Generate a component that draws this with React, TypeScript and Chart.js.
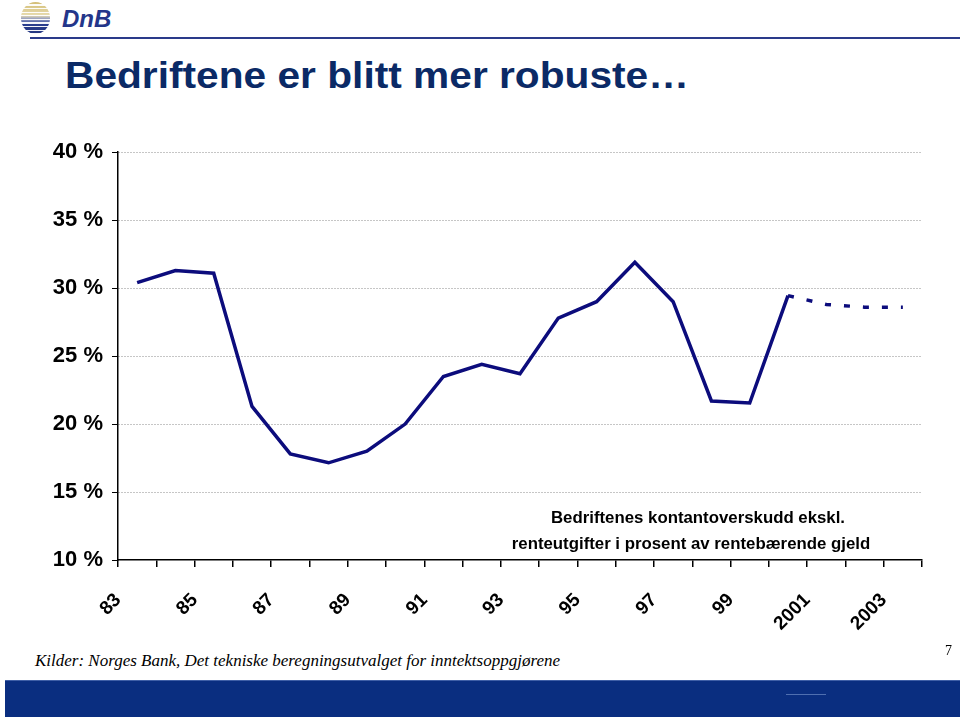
import React, { useEffect, useRef } from "react";
import { Chart, registerables } from "chart.js";

Chart.register(...registerables);

// ---- Data ----
const years: string[] = [
  "83", "84", "85", "86", "87", "88", "89", "90", "91", "92", "93",
  "94", "95", "96", "97", "98", "99", "2000", "2001", "2002", "2003",
];
const shownYearLabels: string[] = [
  "83", "85", "87", "89", "91", "93", "95", "97", "99", "2001", "2003",
];
// Bedriftenes kontantoverskudd ekskl. renteutgifter i prosent av rentebærende gjeld
const cashSurplusPct: number[] = [
  30.4, 31.3, 31.1, 21.3, 17.8, 17.15, 18.0, 20.0, 23.5, 24.4, 23.7,
  27.8, 29.0, 31.9, 29.0, 21.7, 21.55, 29.45, 28.8, 28.6, 28.6,
];
const forecastFromYear = "2000";
const yMin = 10;
const yMax = 40;
const yStep = 5;

const SANS = '"Liberation Sans", Arial, Helvetica, sans-serif';
const SERIF = '"Liberation Serif", "Times New Roman", serif';
const LINE_COLOR = "#0c0c7c";

function LineChart() {
  const ref = useRef<HTMLCanvasElement | null>(null);
  useEffect(() => {
    if (!ref.current) return;
    const forecastIdx = years.indexOf(forecastFromYear);
    const chart = new Chart(ref.current, {
      type: "line",
      data: {
        labels: years,
        datasets: [
          {
            label: "Bedriftenes kontantoverskudd",
            data: cashSurplusPct,
            borderColor: LINE_COLOR,
            backgroundColor: LINE_COLOR,
            borderWidth: 3.5,
            pointRadius: 0,
            pointHoverRadius: 0,
            tension: 0,
            borderJoinStyle: "miter",
            borderCapStyle: "butt",
            segment: {
              borderDash: (ctx: any) =>
                ctx.p0DataIndex >= forecastIdx ? [6, 13] : undefined,
            },
          },
        ],
      },
      options: {
        responsive: false,
        animation: false,
        events: [],
        layout: { padding: { top: 20, right: 38, left: 0, bottom: 0 } },
        plugins: {
          legend: { display: false },
          tooltip: { enabled: false },
          title: { display: false },
        },
        scales: {
          x: {
            type: "category",
            offset: true,
            grid: {
              offset: true,
              drawOnChartArea: false,
              drawTicks: true,
              tickLength: 7,
              tickColor: "#000",
              lineWidth: 1.5,
            },
            border: { display: true, color: "#000", width: 1.5 },
            ticks: {
              autoSkip: false,
              minRotation: 45,
              maxRotation: 45,
              labelOffset: -19,
              padding: 22,
              color: "#000",
              font: { family: SANS, size: 19, weight: "bold" },
              callback: (_v: any, i: number) =>
                shownYearLabels.includes(years[i]) ? years[i] : "",
            },
            afterFit: (s: any) => {
              s.height = 90;
            },
          },
          y: {
            min: yMin,
            max: yMax,
            ticks: {
              stepSize: yStep,
              padding: 9,
              color: "#000",
              font: { family: SANS, size: 22, weight: "bold" },
              callback: (v: any) => `${v} %`,
            },
            grid: {
              color: (c: any) =>
                c.tick && c.tick.value === yMin ? "rgba(0,0,0,0)" : "#8c8c8c",
              lineWidth: 1,
              drawTicks: true,
              tickLength: 6,
              tickColor: "#000",
            },
            border: { display: true, color: "#000", width: 1.5, dash: [1, 2] },
            afterFit: (s: any) => {
              s.width = 118;
            },
          },
        },
      },
    } as any);
    return () => chart.destroy();
  }, []);
  return <canvas ref={ref} width={960} height={520} style={{ display: "block" }} />;
}

function Logo() {
  return (
    <>
      <div
        style={{
          position: "absolute",
          left: 21,
          top: 2,
          width: 29,
          height: 32,
          borderRadius: "50%",
          background:
            "repeating-linear-gradient(to bottom, rgba(255,255,255,0) 0px, rgba(255,255,255,0) 2.4px, rgba(255,255,255,0.95) 2.4px, rgba(255,255,255,0.95) 3.6px), linear-gradient(to bottom, #d3bd74 0%, #e7dcaf 42%, #8d98c4 54%, #2a3d8e 70%, #22357f 100%)",
        }}
      />
      <div
        style={{
          position: "absolute",
          left: 62,
          top: 5,
          fontFamily: SANS,
          fontWeight: "bold",
          fontStyle: "italic",
          fontSize: 24,
          lineHeight: "28px",
          color: "#24368a",
          whiteSpace: "nowrap",
        }}
      >
        DnB
      </div>
      <div
        style={{
          position: "absolute",
          left: 30,
          top: 37,
          width: 930,
          height: 2,
          background: "#2a3a8a",
        }}
      />
    </>
  );
}

const noteStyle: React.CSSProperties = {
  position: "absolute",
  textAlign: "center",
  fontFamily: SANS,
  fontWeight: "bold",
  fontSize: 16,
  lineHeight: "18px",
  color: "#000",
  whiteSpace: "nowrap",
  transform: "scaleX(1.05)",
  transformOrigin: "center top",
};

export default function App() {
  return (
    <div
      style={{
        position: "absolute",
        left: 0,
        top: 0,
        width: 960,
        height: 723,
        background: "#fff",
        overflow: "hidden",
      }}
    >
      <Logo />
      <div
        style={{
          position: "absolute",
          left: 65,
          top: 58,
          fontFamily: SANS,
          fontWeight: "bold",
          fontSize: 36,
          lineHeight: "36px",
          color: "#0b2a66",
          whiteSpace: "nowrap",
          transform: "scaleX(1.13)",
          transformOrigin: "left top",
        }}
      >
        Bedriftene er blitt mer robuste…
      </div>
      <div style={{ position: "absolute", left: 0, top: 130, width: 960, height: 520 }}>
        <LineChart />
      </div>
      <div style={{ ...noteStyle, left: 498, top: 509, width: 400 }}>
        Bedriftenes kontantoverskudd ekskl.
      </div>
      <div style={{ ...noteStyle, left: 441, top: 535, width: 500 }}>
        renteutgifter i prosent av rentebærende gjeld
      </div>
      <div
        style={{
          position: "absolute",
          left: 35,
          top: 652,
          fontFamily: SERIF,
          fontStyle: "italic",
          fontSize: 17,
          lineHeight: "18px",
          color: "#000",
          whiteSpace: "nowrap",
        }}
      >
        Kilder: Norges Bank, Det tekniske beregningsutvalget for inntektsoppgjørene
      </div>
      <div
        style={{
          position: "absolute",
          left: 945,
          top: 643,
          fontFamily: SERIF,
          fontSize: 14,
          lineHeight: "16px",
          color: "#000",
        }}
      >
        7
      </div>
      <div
        style={{
          position: "absolute",
          left: 5,
          top: 680,
          width: 955,
          height: 37,
          background: "#0a2e80",
          borderTop: "1px solid #3f5fa6",
          boxSizing: "border-box",
        }}
      />
      <div
        style={{
          position: "absolute",
          left: 786,
          top: 694,
          width: 40,
          height: 1,
          background: "#4f6fb0",
        }}
      />
    </div>
  );
}
